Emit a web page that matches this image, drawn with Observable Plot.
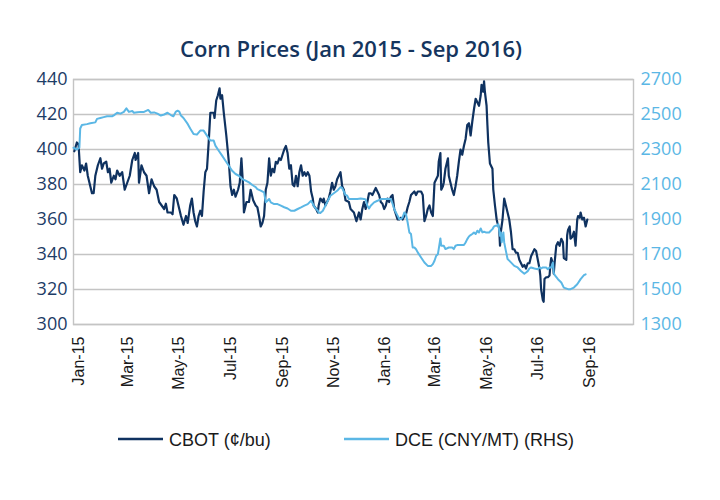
<!DOCTYPE html>
<html><head><meta charset="utf-8">
<script src="https://cdn.jsdelivr.net/npm/d3@7"></script>
<script src="https://cdn.jsdelivr.net/npm/@observablehq/plot@0.6"></script>
<style>
html,body{margin:0;padding:0;background:#fff}
body{width:720px;height:500px;position:relative;overflow:hidden}
#title{position:absolute;top:37px;left:0;width:702px;text-align:center;font:600 22px/22px "Open Sans",sans-serif;color:#15355e}
#chart{position:absolute;top:70px;left:0}
#legend{position:absolute;top:420px;left:0}
</style></head><body>
<div id="title"></div>
<div id="chart"></div>
<svg id="legend" width="720" height="40"></svg>
<script>
const titleText = "Corn Prices (Jan 2015 - Sep 2016)";
const seriesNames = ["CBOT (¢/bu)", "DCE (CNY/MT) (RHS)"];
const seriesColors = ["#0f3260", "#5bb7e5"];

const cbotDates = ["2015-01-02","2015-01-05","2015-01-07","2015-01-09","2015-01-11","2015-01-14","2015-01-16","2015-01-18","2015-01-21","2015-01-23","2015-01-25","2015-01-27","2015-01-30","2015-02-02","2015-02-04","2015-02-06","2015-02-09","2015-02-11","2015-02-13","2015-02-15","2015-02-18","2015-02-20","2015-02-22","2015-02-25","2015-02-28","2015-03-03","2015-03-06","2015-03-09","2015-03-12","2015-03-15","2015-03-16","2015-03-19","2015-03-20","2015-03-23","2015-03-26","2015-03-29","2015-04-01","2015-04-04","2015-04-07","2015-04-10","2015-04-13","2015-04-16","2015-04-19","2015-04-21","2015-04-23","2015-04-27","2015-04-29","2015-05-01","2015-05-04","2015-05-07","2015-05-09","2015-05-12","2015-05-15","2015-05-17","2015-05-20","2015-05-22","2015-05-24","2015-05-26","2015-05-28","2015-05-30","2015-06-01","2015-06-03","2015-06-05","2015-06-07","2015-06-09","2015-06-11","2015-06-13","2015-06-17","2015-06-18","2015-06-20","2015-06-22","2015-06-24","2015-06-25","2015-06-27","2015-06-29","2015-07-02","2015-07-05","2015-07-07","2015-07-09","2015-07-11","2015-07-13","2015-07-16","2015-07-18","2015-07-20","2015-07-22","2015-07-23","2015-07-26","2015-07-29","2015-07-31","2015-08-03","2015-08-06","2015-08-08","2015-08-10","2015-08-12","2015-08-14","2015-08-16","2015-08-18","2015-08-20","2015-08-22","2015-08-24","2015-08-26","2015-08-28","2015-08-30","2015-09-01","2015-09-03","2015-09-05","2015-09-07","2015-09-09","2015-09-11","2015-09-13","2015-09-15","2015-09-17","2015-09-19","2015-09-21","2015-09-23","2015-09-25","2015-09-27","2015-09-29","2015-10-01","2015-10-03","2015-10-05","2015-10-07","2015-10-09","2015-10-11","2015-10-13","2015-10-14","2015-10-17","2015-10-19","2015-10-20","2015-10-22","2015-10-25","2015-10-26","2015-10-28","2015-10-30","2015-11-01","2015-11-03","2015-11-05","2015-11-07","2015-11-09","2015-11-11","2015-11-13","2015-11-15","2015-11-17","2015-11-19","2015-11-21","2015-11-25","2015-11-27","2015-12-01","2015-12-04","2015-12-07","2015-12-09","2015-12-11","2015-12-13","2015-12-15","2015-12-17","2015-12-19","2015-12-21","2015-12-23","2015-12-25","2015-12-27","2015-12-29","2015-12-31","2016-01-02","2016-01-04","2016-01-06","2016-01-08","2016-01-10","2016-01-12","2016-01-14","2016-01-16","2016-01-18","2016-01-20","2016-01-22","2016-01-24","2016-01-26","2016-01-28","2016-01-30","2016-02-01","2016-02-03","2016-02-05","2016-02-07","2016-02-11","2016-02-13","2016-02-15","2016-02-19","2016-02-21","2016-02-23","2016-02-25","2016-02-27","2016-02-29","2016-03-02","2016-03-04","2016-03-06","2016-03-08","2016-03-10","2016-03-11","2016-03-13","2016-03-14","2016-03-16","2016-03-17","2016-03-19","2016-03-22","2016-03-23","2016-03-25","2016-03-27","2016-03-29","2016-03-31","2016-04-02","2016-04-04","2016-04-06","2016-04-08","2016-04-10","2016-04-12","2016-04-14","2016-04-16","2016-04-18","2016-04-20","2016-04-22","2016-04-24","2016-04-26","2016-04-28","2016-04-30","2016-05-01","2016-05-03","2016-05-04","2016-05-05","2016-05-07","2016-05-08","2016-05-09","2016-05-11","2016-05-12","2016-05-14","2016-05-15","2016-05-17","2016-05-19","2016-05-20","2016-05-22","2016-05-23","2016-05-24","2016-05-26","2016-05-28","2016-05-30","2016-06-01","2016-06-03","2016-06-05","2016-06-07","2016-06-09","2016-06-11","2016-06-13","2016-06-15","2016-06-17","2016-06-19","2016-06-21","2016-06-23","2016-06-25","2016-06-27","2016-06-29","2016-07-01","2016-07-03","2016-07-05","2016-07-07","2016-07-09","2016-07-10","2016-07-11","2016-07-13","2016-07-14","2016-07-15","2016-07-17","2016-07-19","2016-07-21","2016-07-22","2016-07-23","2016-07-25","2016-07-26","2016-07-27","2016-07-29","2016-07-31","2016-08-02","2016-08-04","2016-08-06","2016-08-07","2016-08-10","2016-08-11","2016-08-12","2016-08-14","2016-08-15","2016-08-17","2016-08-19","2016-08-21","2016-08-23","2016-08-24","2016-08-26","2016-08-27","2016-08-29","2016-08-31","2016-09-02","2016-09-04"];
const cbotValues = [399,404,403,387,391,388,392,385,379,375,375,385,391,395,389,392,393,387,389,381,385,383,388,385,387,377,381,385,394,398,394,398,381,391,387,385,375,383,379,377,370,368,366,369,364,364,363,374,372,366,362,357,362,358,368,372,364,359,356,362,365,362,376,387,389,404,421,421,418,428,431,435,429,431,421,408,393,379,374,377,373,377,381,395,379,364,370,370,377,371,368,367,362,356,358,362,377,381,395,385,389,387,393,392,395,394,397,400,402,398,389,391,380,379,385,379,387,391,385,387,385,387,385,376,372,368,366,364,368,372,370,372,368,370,372,376,381,377,379,383,385,387,379,377,371,370,366,364,359,364,360,366,370,366,370,375,375,374,376,378,376,374,370,369,366,368,372,370,373,374,366,363,360,360,361,360,362,363,367,370,374,376,374,376,376,374,359,362,366,368,364,362,381,383,385,393,398,377,379,381,389,395,385,381,377,374,379,385,393,400,397,402,406,414,415,408,416,423,429,427,425,431,437,433,439,433,425,414,404,392,391,389,377,368,360,358,355,345,353,360,372,368,364,360,353,343,343,341,341,337,335,333,334,332,335,335,339,341,343,342,337,332,328,320,314,313,326,327,327,328,334,338,335,329,335,345,347,345,349,347,338,337,351,354,356,349,350,353,345,360,362,361,364,360,361,356,360];

const dceDates = ["2015-01-01","2015-01-05","2015-01-08","2015-01-09","2015-01-11","2015-01-17","2015-01-21","2015-01-27","2015-01-29","2015-02-02","2015-02-06","2015-02-10","2015-02-16","2015-02-18","2015-02-22","2015-02-26","2015-03-02","2015-03-05","2015-03-08","2015-03-12","2015-03-14","2015-03-18","2015-03-22","2015-03-26","2015-03-31","2015-04-03","2015-04-07","2015-04-11","2015-04-15","2015-04-19","2015-04-23","2015-04-27","2015-04-30","2015-05-03","2015-05-05","2015-05-07","2015-05-09","2015-05-12","2015-05-17","2015-05-20","2015-05-24","2015-05-28","2015-06-01","2015-06-05","2015-06-09","2015-06-13","2015-06-17","2015-06-19","2015-06-23","2015-06-27","2015-07-01","2015-07-05","2015-07-09","2015-07-13","2015-07-17","2015-07-21","2015-07-25","2015-07-29","2015-08-02","2015-08-06","2015-08-08","2015-08-12","2015-08-16","2015-08-18","2015-08-20","2015-08-22","2015-08-24","2015-08-28","2015-09-01","2015-09-05","2015-09-09","2015-09-13","2015-09-17","2015-09-21","2015-09-25","2015-09-29","2015-10-03","2015-10-07","2015-10-11","2015-10-13","2015-10-14","2015-10-17","2015-10-19","2015-10-20","2015-10-22","2015-10-25","2015-10-26","2015-10-28","2015-10-30","2015-11-03","2015-11-07","2015-11-11","2015-11-15","2015-11-17","2015-11-19","2015-11-21","2015-11-23","2015-11-25","2015-11-30","2015-12-05","2015-12-09","2015-12-13","2015-12-15","2015-12-17","2015-12-19","2015-12-21","2015-12-25","2015-12-29","2016-01-02","2016-01-08","2016-01-14","2016-01-16","2016-01-18","2016-01-20","2016-01-22","2016-01-24","2016-01-26","2016-01-28","2016-01-30","2016-02-01","2016-02-03","2016-02-05","2016-02-07","2016-02-09","2016-02-11","2016-02-13","2016-02-15","2016-02-19","2016-02-23","2016-02-27","2016-03-02","2016-03-04","2016-03-06","2016-03-08","2016-03-10","2016-03-11","2016-03-13","2016-03-14","2016-03-17","2016-03-19","2016-03-23","2016-03-25","2016-03-27","2016-03-29","2016-03-31","2016-04-02","2016-04-06","2016-04-10","2016-04-12","2016-04-14","2016-04-16","2016-04-18","2016-04-20","2016-04-22","2016-04-24","2016-04-26","2016-04-28","2016-04-30","2016-05-02","2016-05-04","2016-05-06","2016-05-08","2016-05-10","2016-05-12","2016-05-14","2016-05-16","2016-05-18","2016-05-20","2016-05-21","2016-05-23","2016-05-24","2016-05-25","2016-05-27","2016-05-28","2016-05-30","2016-06-01","2016-06-03","2016-06-05","2016-06-09","2016-06-13","2016-06-17","2016-06-21","2016-06-23","2016-06-25","2016-06-27","2016-06-29","2016-07-03","2016-07-07","2016-07-09","2016-07-11","2016-07-13","2016-07-17","2016-07-19","2016-07-21","2016-07-23","2016-07-25","2016-07-26","2016-07-27","2016-07-31","2016-08-04","2016-08-07","2016-08-12","2016-08-15","2016-08-19","2016-08-23","2016-08-27","2016-08-31","2016-09-02"];
const dceValues = [2310,2300,2310,2420,2440,2445,2450,2455,2475,2480,2485,2490,2490,2495,2510,2505,2515,2535,2515,2520,2510,2513,2515,2515,2526,2510,2512,2505,2494,2500,2510,2497,2490,2517,2522,2517,2494,2480,2446,2420,2389,2385,2408,2408,2379,2351,2351,2322,2293,2265,2236,2207,2178,2160,2150,2131,2122,2112,2097,2085,2074,2065,2055,1998,2007,2017,1998,1988,1988,1979,1970,1963,1950,1950,1960,1969,1979,1988,2007,1990,1979,1960,1950,1940,1937,1950,1960,1979,1998,2036,2050,2064,2085,2080,2060,2040,2036,2017,2017,2017,2020,2017,2014,1979,1963,1979,1998,2007,2017,2017,2017,1990,1960,1940,1922,1903,1903,1912,1940,1930,1883,1826,1817,1740,1740,1730,1712,1683,1654,1635,1635,1645,1664,1693,1702,1731,1792,1750,1750,1731,1740,1740,1740,1731,1750,1754,1754,1754,1769,1788,1803,1811,1817,1826,1817,1836,1826,1849,1826,1830,1826,1826,1826,1836,1845,1861,1865,1865,1874,1807,1826,1770,1826,1769,1721,1674,1665,1655,1635,1626,1606,1590,1597,1605,1620,1626,1620,1616,1626,1620,1626,1626,1616,1626,1626,1654,1597,1583,1559,1540,1511,1502,1502,1511,1530,1559,1582,1587];

const leftTicks = [300,320,340,360,380,400,420,440];
const rightTicks = [1300,1500,1700,1900,2100,2300,2500,2700];
const xTickDates = ["2015-01-01","2015-03-01","2015-05-01","2015-07-01","2015-09-01","2015-11-01","2016-01-01","2016-03-01","2016-05-01","2016-07-01","2016-09-01"];
const xTickLabels = ["Jan-15","Mar-15","May-15","Jul-15","Sep-15","Nov-15","Jan-16","Mar-16","May-16","Jul-16","Sep-16"];
const xDomain = ["2015-01-01","2016-10-29"];

const parse = d3.utcParse("%Y-%m-%d");
const cbot = cbotDates.map((d, i) => ({date: parse(d), value: cbotValues[i]}));
const dce = dceDates.map((d, i) => ({date: parse(d), value: dceValues[i]}));
// RHS (1300..2700) mapped onto LHS (300..440)
const toLeft = v => v / 10 + 170;
const tickDates = xTickDates.map(parse);

const chart = Plot.plot({
  width: 720, height: 350,
  marginTop: 9, marginBottom: 96, marginLeft: 73, marginRight: 87,
  style: {fontFamily: "'Open Sans', sans-serif", background: "transparent", overflow: "visible"},
  x: {type: "utc", domain: xDomain.map(parse)},
  y: {domain: [300, 440]},
  marks: [
    Plot.gridY(leftTicks, {stroke: "#c4c4c4", strokeOpacity: 1, strokeWidth: 1.4}),
    Plot.frame({stroke: "#c4c4c4", strokeWidth: 1.4}),
    Plot.lineY(cbot, {x: "date", y: "value", stroke: seriesColors[0], strokeWidth: 2.2}),
    Plot.lineY(dce, {x: "date", y: d => toLeft(d.value), stroke: seriesColors[1], strokeWidth: 2}),
    Plot.axisY(leftTicks, {anchor: "left", tickSize: 0, tickPadding: 6, fontSize: 18, fill: "#1d3c66", label: null}),
    Plot.axisY(rightTicks.map(toLeft), {anchor: "right", tickSize: 0, tickPadding: 7, fontSize: 18, fill: "#5bb7e5",
      tickFormat: v => String(Math.round((v - 170) * 10)), label: null}),
    Plot.axisX(tickDates, {tickSize: 0, tickRotate: -90, tickPadding: 12, dx: 5, fontSize: 16,
      fontFamily: "'Liberation Sans', Arial, sans-serif", fill: "#1a1a1a",
      tickFormat: (d) => xTickLabels[tickDates.findIndex(t => +t === +d)], label: null})
  ]
});
document.getElementById("chart").appendChild(chart);
document.getElementById("title").textContent = titleText;

// legend
const lg = d3.select("#legend");
const legendX = [118, 344];
seriesNames.forEach((name, i) => {
  lg.append("line").attr("x1", legendX[i]).attr("x2", legendX[i] + 45).attr("y1", 19).attr("y2", 19)
    .attr("stroke", seriesColors[i]).attr("stroke-width", 2.5);
  lg.append("text").attr("x", legendX[i] + 51).attr("y", 26)
    .attr("font-family", "'Liberation Sans', Arial, sans-serif").attr("font-size", 18).attr("fill", "#1a1a1a")
    .text(name);
});
</script>
</body></html>
